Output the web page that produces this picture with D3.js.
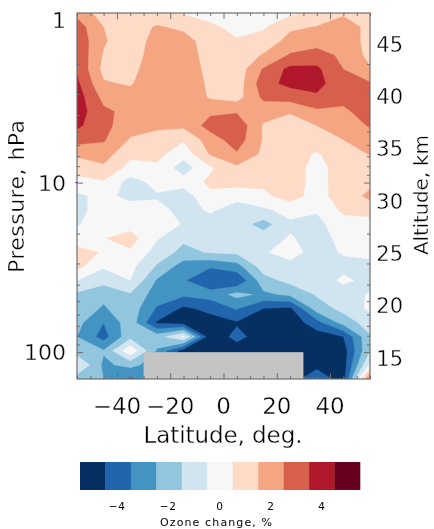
<!DOCTYPE html>
<html><head><meta charset="utf-8"><style>html,body{margin:0;background:#fff}svg{display:block;filter:blur(0.45px)}text{font-family:"DejaVu Sans";fill:#000;stroke:#fff;stroke-width:0.35px}</style>
<script src="https://cdn.jsdelivr.net/npm/d3@7"></script></head><body><div id="c"></div><script>
const lats=[-55,-45,-35,-25,-15,-5,5,15,25,35,45,55];
const rowAlts=d3.range(27).map(k=>48-k*35/26);
const r00=[2.2,1.0,0.5,0.8,0.4,0.1,-0.1,0.1,0.3,0.7,1.3,0.8];
const r01=[3.0,1.5,1.0,1.6,1.3,0.7,0.2,0.4,1.3,1.55,2.2,1.1];
const r02=[3.2,1.6,0.9,1.9,1.9,1.0,0.6,0.8,1.9,2.1,2.2,1.1];
const r03=[3.3,1.4,0.9,2.1,2.0,1.1,0.8,1.6,2.6,2.9,2.3,1.2];
const r04=[3.4,1.2,1.2,2.1,2.1,1.2,0.9,2.6,3.78,3.7,2.5,1.6];
const r05=[3.7,1.6,1.4,2.2,2.2,1.3,0.9,3.1,3.8,3.9,2.7,2.6];
const r06=[4.0,2.2,1.9,2.3,2.2,1.4,1.1,2.7,2.85,3.3,2.8,3.0];
const r07=[4.0,2.7,2.2,2.2,2.2,2.3,2.4,1.9,1.7,2.3,2.3,3.0];
const r08=[3.7,2.8,1.9,1.7,1.7,2.9,3.2,1.4,0.45,1.5,1.9,2.6];
const r09=[2.9,2.6,1.4,1.1,0.6,2.0,3.0,1.4,1.1,1.2,1.5,2.0];
const r10=[1.7,2.0,0.7,0.8,-0.1,1.6,2.4,1.3,1.0,0.4,1.1,1.55];
const r11=[0.9,1.3,0.2,0.3,-1.0,0.35,1.3,0.9,0.9,0.2,0.9,1.0];
const r12=[0.2,0.4,-0.9,-0.2,-0.1,0.7,1.0,0.7,0.9,0.2,0.9,1.3];
const r13=[-0.7,-0.2,-0.8,-0.6,-1.0,0.3,-0.3,0.3,0.9,0.1,1.0,1.7];
const r14=[-0.7,-0.2,0.0,-0.2,-0.8,-0.4,-0.8,-0.7,-0.1,-0.4,0.7,1.0];
const r15=[-0.6,0.1,0.1,-0.1,-0.55,-0.8,-1.0,-1.9,-0.7,-0.8,0.1,0.0];
const r16=[-0.1,0.45,0.9,-0.4,-1.3,-1.1,-1.2,-1.0,-0.4,-0.9,-0.2,-0.2];
const r17=[0.9,0.4,0.35,-0.9,-1.8,-1.4,-1.3,-0.6,-0.1,-0.9,-0.4,-0.3];
const r18=[0.8,-0.4,-0.2,-1.6,-3.0,-3.4,-2.9,-1.0,-0.8,-0.9,-0.8,-0.7];
const r19=[-0.5,-1.1,-0.5,-2.6,-3.4,-4.3,-4.4,-1.9,-1.2,-1.1,-0.3,-0.8];
const r20=[-1.7,-2.3,-1.6,-3.0,-3.3,-3.1,-2.2,-2.7,-2.3,-1.4,-1.0,-0.4];
const r21=[-2.0,-2.6,-1.9,-3.6,-4.7,-4.2,-3.4,-4.5,-4.7,-2.0,-1.2,-0.3];
const r22=[-2.2,-3.5,-1.9,-4.6,-4.9,-5.0,-4.6,-5.0,-5.2,-3.9,-2.1,-1.0];
const r23=[-2.5,-3.9,-1.8,-2.0,-0.3,-5.2,-4.2,-5.0,-5.2,-5.0,-4.5,-1.6];
const r24=[-2.0,-2.4,0.3,-2.6,-5.0,-5.0,-5.0,-5.0,-5.2,-4.6,-5.0,-1.5];
const r25=[-0.4,-2.7,-2.2,-3.0,-5.0,-5.0,-5.0,-5.0,-5.0,-4.8,-5.0,-0.3];
const r26=[-2.0,-2.5,-3.7,-3.0,-5.0,-5.0,-5.0,-5.0,-5.0,-3.8,-5.0,3.0];
const rows=[r00,r01,r02,r03,r04,r05,r06,r07,r08,r09,r10,r11,r12,r13,r14,r15,r16,r17,r18,r19,r20,r21,r22,r23,r24,r25,r26];
const thresholds=[-4.5,-3.5,-2.5,-1.5,-0.5,0.5,1.5,2.5,3.5,4.5];
const colors=["#053061","#2166ac","#4393c3","#92c5de","#d1e5f0","#f7f7f7","#fddbc7","#f4a582","#d6604d","#b2182b","#67001f"];
const latTicks=[-40,-20,0,20,40];
const pressureTicks=[1,10,100];
const altTicks=[15,20,25,30,35,40,45];
const cbTicks=[-4,-2,0,2,4];
const maskLat=[-30,30], maskP=100;

const W=434,H=529;
const m={l:77,r:370,t:13,b:379};
const svg=d3.select("#c").append("svg").attr("width",W).attr("height",H);
const x=d3.scaleLinear([-55,55],[m.l,m.r]);
const yAlt=d3.scaleLinear([13,48],[m.b,m.t]);
const yP=d3.scaleLog([1,144],[13,379]);
svg.append("clipPath").attr("id","pc").append("rect").attr("x",m.l).attr("y",m.t).attr("width",m.r-m.l).attr("height",m.b-m.t);
const n=lats.length,mr=rows.length;
const vals=rows.flat();
const contours=d3.contours().size([n,mr]).thresholds(thresholds).smooth(true);
const tr=d3.geoTransform({point(px,py){
  const la=lats[0]+(px-0.5)*10, al=rowAlts[0]-(py-0.5)*35/26;
  this.stream.point(x(la),yAlt(al));}});
const path=d3.geoPath(tr);
const g=svg.append("g").attr("clip-path","url(#pc)");
g.append("rect").attr("x",m.l).attr("y",m.t).attr("width",m.r-m.l).attr("height",m.b-m.t).attr("fill",colors[0]);
g.selectAll("path").data(contours(vals)).join("path").attr("d",path)
 .attr("fill",(d,i)=>colors[i+1]).attr("stroke",(d,i)=>colors[i+1]).attr("stroke-width",0.3);
g.append("rect").attr("x",x(maskLat[0])).attr("y",yP(maskP)).attr("width",x(maskLat[1])-x(maskLat[0])).attr("height",m.b-yP(maskP)).attr("fill","#c4c4c4");

// frame and ticks
const frame="#6e6e6e";
function style(a){a.select(".domain").remove();a.selectAll("line").attr("stroke",frame);a.selectAll("text").remove();}
const minorLat=d3.range(-55,56,5);
const majorLat=minorLat.filter(v=>v%20===0);
for(const [ty,dir] of [[m.t,1],[m.b,-1]]){
  svg.append("g").attr("transform",`translate(0,${ty})`).call(d3.axisBottom(x).tickValues(minorLat.filter(v=>v%20!==0)).tickSize(dir*3)).call(style);
  svg.append("g").attr("transform",`translate(0,${ty})`).call(d3.axisBottom(x).tickValues(majorLat).tickSize(dir*6)).call(style);
}
const minorP=[2,3,4,5,6,7,8,9,20,30,40,50,60,70,80,90];
svg.append("g").attr("transform",`translate(${m.l},0)`).call(d3.axisRight(yP).tickValues(minorP).tickSize(3)).call(style);
svg.append("g").attr("transform",`translate(${m.l},0)`).call(d3.axisRight(yP).tickValues([10,100]).tickSize(6)).call(style);
svg.append("g").attr("transform",`translate(${m.r},0)`).call(d3.axisLeft(yP).tickValues(minorP).tickSize(3)).call(style);
svg.append("g").attr("transform",`translate(${m.r},0)`).call(d3.axisLeft(yP).tickValues([10,100]).tickSize(6)).call(style);
svg.append("rect").attr("x",m.l).attr("y",m.t).attr("width",m.r-m.l).attr("height",m.b-m.t).attr("fill","none").attr("stroke",frame).attr("stroke-width",1.2);
svg.append("line").attr("x1",m.l-2).attr("x2",m.l+1).attr("y1",yP(10)).attr("y2",yP(10)).attr("stroke","#a030c0");

// labels
svg.selectAll(".lt").data(latTicks).join("text").attr("x",d=>x(d)).attr("y",414).attr("text-anchor","middle").attr("font-size",23).text(d=>d<0?"\u2212"+(-d):d);
svg.selectAll(".pt").data(pressureTicks).join("text").attr("x",66).attr("y",d=>d===1?28:yP(d)+8).attr("text-anchor","end").attr("font-size",22).text(d=>d);
svg.selectAll(".at").data(altTicks).join("text").attr("x",403).attr("y",d=>yAlt(d)+7.5).attr("text-anchor","end").attr("font-size",21).text(d=>d);
svg.append("text").attr("x",223).attr("y",443).attr("text-anchor","middle").attr("font-size",23).attr("textLength",159).attr("lengthAdjust","spacing").text("Latitude, deg.");
svg.append("text").attr("transform","translate(24,196.5) rotate(-90)").attr("text-anchor","middle").attr("font-size",22).attr("textLength",153).attr("lengthAdjust","spacing").text("Pressure, hPa");
svg.append("text").attr("transform","translate(428,195) rotate(-90)").attr("text-anchor","middle").attr("font-size",20).attr("textLength",120).attr("lengthAdjust","spacing").text("Altitude, km");

// colour bar
const cbX=d3.scaleLinear([-5.5,5.5],[80,360]);
svg.selectAll(".cb").data(colors).join("rect").attr("x",(d,i)=>cbX(i-5.5)).attr("y",462).attr("width",(d,i)=>cbX(i-4.5)-cbX(i-5.5)+0.3).attr("height",28).attr("fill",d=>d);
svg.selectAll(".cbt").data(cbTicks).join("text").attr("x",d=>cbX(d)-(d<0?1:0)).attr("y",510).attr("text-anchor","middle").attr("font-size",10.5).attr("letter-spacing",0.6).style("stroke","none").text(d=>d<0?"\u2212"+(-d):d);
svg.append("text").attr("x",216).attr("y",526).attr("text-anchor","middle").attr("font-size",11).attr("textLength",112).attr("lengthAdjust","spacing").style("stroke","none").text("Ozone change, %");
</script></body></html>
